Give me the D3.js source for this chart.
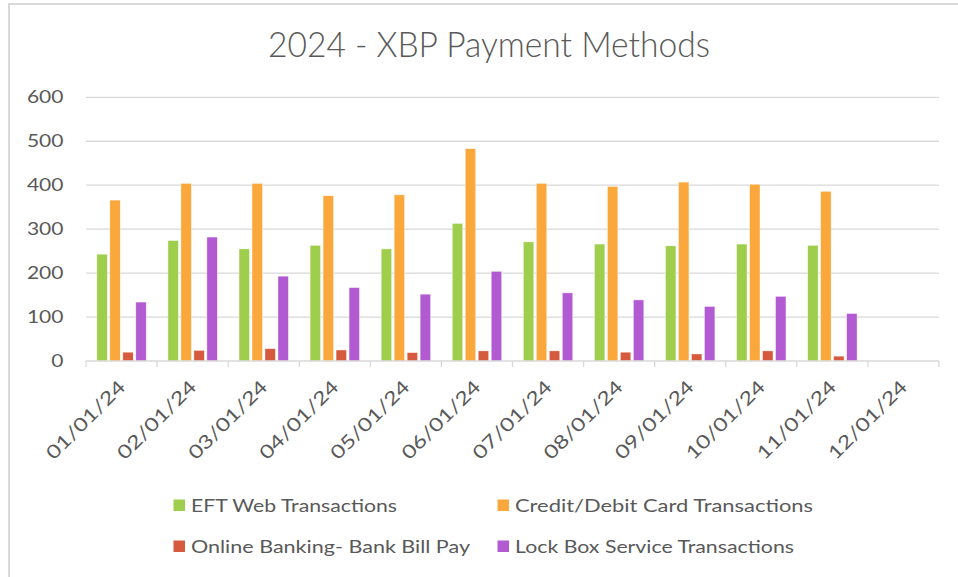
<!DOCTYPE html>
<html lang="en">
<head>
<meta charset="UTF-8">
<title>2024 - XBP Payment Methods</title>
<script src="https://d3js.org/d3.v7.min.js"></script>
<style>
  body { margin: 0; background: #fff; }
  svg { display: block; }
  text { font-family: "Century Gothic", Lato, "DejaVu Sans", sans-serif; fill: #595959; }
</style>
</head>
<body>
<script>
const months = ["01/01/24", "02/01/24", "03/01/24", "04/01/24", "05/01/24", "06/01/24",
                "07/01/24", "08/01/24", "09/01/24", "10/01/24", "11/01/24", "12/01/24"];
const seriesNames = ["EFT Web Transactions", "Credit/Debit Card Transactions",
                     "Online Banking- Bank Bill Pay", "Lock Box Service Transactions"];
const eftWeb     = [243, 274, 255, 263, 255, 313, 271, 266, 262, 266, 263, null];
const creditCard = [366, 404, 404, 376, 378, 483, 404, 397, 407, 402, 386, null];
const onlineBank = [20, 24, 28, 25, 19, 23, 23, 20, 16, 23, 11, null];
const lockBox    = [134, 282, 193, 167, 152, 204, 155, 139, 124, 147, 108, null];
const yTicks = [0, 100, 200, 300, 400, 500, 600];
const colors = ["#9ECE4B", "#FAA73C", "#D55A3E", "#B25AD2"];

const width = 958, height = 577;
const plot = { left: 86, right: 939, top: 97.3, bottom: 361 };

const svg = d3.select("body").append("svg")
    .attr("width", width)
    .attr("height", height);

// chart frame (cut off by the window on the right and bottom)
svg.append("rect")
    .attr("x", 9).attr("y", 4)
    .attr("width", 1000).attr("height", 1000)
    .attr("fill", "#fff")
    .attr("stroke", "#d9d9d9")
    .attr("stroke-width", 2);

const x = d3.scaleBand().domain(months).range([plot.left, plot.right]);
const y = d3.scaleLinear().domain([0, 600]).range([plot.bottom, plot.top]);
const xs = d3.scaleBand().domain(d3.range(seriesNames.length))
    .range([x.bandwidth() * 0.153, x.bandwidth() * 0.847])
    .paddingInner(0.2);

// title
svg.append("text")
    .attr("x", 489).attr("y", 56.5)
    .attr("text-anchor", "middle")
    .style("font-size", "36px")
    .style("font-weight", 300)
    .attr("textLength", 442)
    .attr("lengthAdjust", "spacingAndGlyphs")
    .text("2024 - XBP Payment Methods");

// gridlines
svg.append("g")
    .selectAll("line")
    .data(yTicks.filter(d => d > 0))
    .join("line")
    .attr("x1", plot.left).attr("x2", plot.right)
    .attr("y1", d => y(d)).attr("y2", d => y(d))
    .attr("stroke", "#d9d9d9")
    .attr("stroke-width", 1.3);

// y labels
svg.append("g")
    .selectAll("text")
    .data(yTicks)
    .join("text")
    .attr("x", 63.5)
    .attr("y", d => y(d) + 6)
    .attr("text-anchor", "end")
    .style("font-size", "17px")
    .attr("textLength", d => String(d).length * 12.2)
    .attr("lengthAdjust", "spacingAndGlyphs")
    .text(d => d);

// bars
const table = [eftWeb, creditCard, onlineBank, lockBox];
const gBars = svg.append("g");
table.forEach((vals, si) => {
    gBars.append("g")
        .selectAll("rect")
        .data(months.map((m, i) => ({ m, v: vals[i] })).filter(d => d.v != null))
        .join("rect")
        .attr("x", d => x(d.m) + xs(si))
        .attr("width", xs.bandwidth())
        .attr("y", d => y(d.v))
        .attr("height", d => y(0) - y(d.v))
        .attr("fill", colors[si])
        .attr("stroke", "#fff")
        .attr("stroke-opacity", 0.6)
        .attr("stroke-width", 0.6);
});

// x axis line and ticks
const gx = svg.append("g");
gx.append("line")
    .attr("x1", plot.left).attr("x2", plot.right)
    .attr("y1", plot.bottom).attr("y2", plot.bottom)
    .attr("stroke", "#d9d9d9").attr("stroke-width", 1.3);
gx.selectAll("line.tick")
    .data(months.map(m => x(m)).concat([plot.right]))
    .join("line")
    .attr("class", "tick")
    .attr("x1", d => d).attr("x2", d => d)
    .attr("y1", plot.bottom).attr("y2", plot.bottom + 6)
    .attr("stroke", "#d9d9d9").attr("stroke-width", 1.3);

// x labels, rotated
gx.selectAll("text")
    .data(months)
    .join("text")
    .attr("transform", d => `translate(${x(d) + x.bandwidth() / 2 + 5},${plot.bottom + 27}) rotate(-45)`)
    .attr("text-anchor", "end")
    .style("font-size", "18.5px")
    .attr("textLength", 103)
    .attr("lengthAdjust", "spacingAndGlyphs")
    .text(d => d);

// legend
const legendPos = [
    { sx: 173.5, tx: 191, base: 512, w: 206 },
    { sx: 497.5, tx: 515, base: 512, w: 298 },
    { sx: 173.5, tx: 191, base: 553, w: 279 },
    { sx: 497.5, tx: 515, base: 553, w: 279 }
];
const lg = svg.append("g")
    .selectAll("g")
    .data(seriesNames)
    .join("g");
lg.append("rect")
    .attr("x", (d, i) => legendPos[i].sx)
    .attr("y", (d, i) => legendPos[i].base - 12.5)
    .attr("width", 11.5).attr("height", 11.5)
    .attr("fill", (d, i) => colors[i]);
lg.append("text")
    .attr("x", (d, i) => legendPos[i].tx)
    .attr("y", (d, i) => legendPos[i].base)
    .style("font-size", "17px")
    .attr("textLength", (d, i) => legendPos[i].w)
    .attr("lengthAdjust", "spacingAndGlyphs")
    .text(d => d);
</script>
</body>
</html>
